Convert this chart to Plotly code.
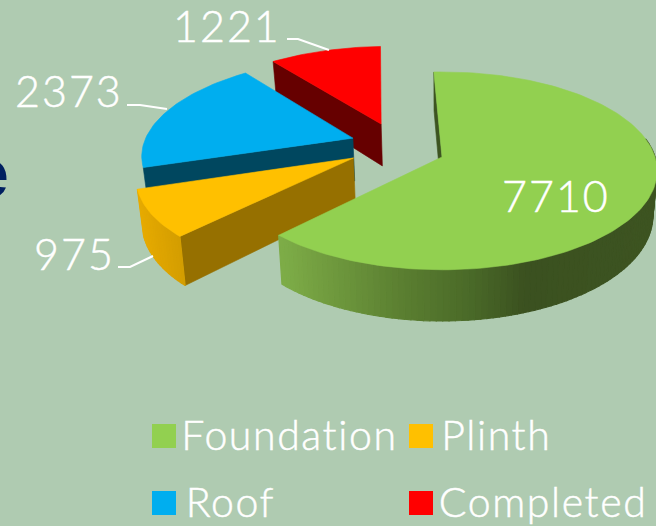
import math
import plotly.graph_objects as go

categories = ["Foundation", "Plinth", "Roof", "Completed"]
values = [7710, 975, 2373, 1221]
top_colors = ["#92D050", "#FFC000", "#00AEEF", "#FF0000"]
edge_colors = ["#3D5421", "#967000", "#00475F", "#660000"]

# Explode of each slice in pie units (right, back)
pull_x = [0.0, -0.415, -0.43, -0.30]
pull_y = [0.0, -0.01, 0.2, 0.357]

# 3D pie view parameters
W, H = 656, 526
CX, CY = 442, 157
RX, RY = 213, 97
PERSP = 0.14
DEPTH = 44
SHRINK = 0.98
ROTATION = -2.5


def project(x, y):
    s = 1 / (1 + PERSP * y)
    return CX + RX * x * s, CY - RY * y * s, s


def bottom(x, y):
    px, py, s = project(x, y)
    return CX + (px - CX) * SHRINK, py + DEPTH * s


def rim(i, deg):
    a = math.radians(deg)
    return pull_x[i] + math.sin(a), pull_y[i] + math.cos(a)


def mix(c1, c2, t):
    a = [int(c1[k:k + 2], 16) for k in (1, 3, 5)]
    b = [int(c2[k:k + 2], 16) for k in (1, 3, 5)]
    return "#" + "".join(f"{round(p + (q - p) * t):02X}" for p, q in zip(a, b))


def wall_color(i, sx):
    if i == 1:
        return mix("#E6AA00", "#D29C00", min(1, max(0, (sx - 138) / 45)))
    stops = [(283, "#7DAC47"), (400, "#5B7F31"), (470, "#4A6A28"), (525, "#3B5120"), (656, "#3D5421")]
    for (x0, c0), (x1, c1) in zip(stops, stops[1:]):
        if sx <= x1:
            return mix(c0, c1, max(0, (sx - x0) / (x1 - x0)))
    return stops[-1][1]


fig = go.Figure()


def poly(points, color, lw=0.6):
    xs = [p[0] for p in points] + [points[0][0]]
    ys = [p[1] for p in points] + [points[0][1]]
    fig.add_trace(go.Scatter(x=xs, y=ys, mode="lines", fill="toself", fillcolor=color,
                             line=dict(color=color, width=lw), hoverinfo="skip", showlegend=False))


total = sum(values)
spans = []
angle = ROTATION
for v in values:
    spans.append((angle, angle + 360 * v / total))
    angle += 360 * v / total

for i in [3, 2, 1, 0]:
    a0, a1 = spans[i]
    steps = max(4, int((a1 - a0) / 1.5))
    degs = [a0 + (a1 - a0) * k / steps for k in range(steps + 1)]
    ox, oy = pull_x[i], pull_y[i]
    # wall along the slice's first radial edge
    rx0, ry0 = rim(i, a0)
    poly([project(ox, oy)[:2], project(rx0, ry0)[:2], bottom(rx0, ry0), bottom(ox, oy)], edge_colors[i])
    # outer curved wall, only for the slices that show it from this view
    if i in (0, 1):
        for d0, d1 in zip(degs, degs[1:]):
            if d1 < 80:
                continue
            p0, p1 = rim(i, d0), rim(i, d1)
            sx = (project(*p0)[0] + project(*p1)[0]) / 2
            poly([project(*p0)[:2], project(*p1)[:2], bottom(*p1), bottom(*p0)], wall_color(i, sx), lw=1.2)
    # top face
    poly([project(ox, oy)[:2]] + [project(*rim(i, d))[:2] for d in degs], top_colors[i])

# leader lines
leaders = [
    ([287, 298, 329], [39, 39, 50]),
    ([127, 140, 167], [105, 105, 109]),
    ([118, 130, 153], [267, 267, 256]),
]
for lx, ly in leaders:
    fig.add_trace(go.Scatter(x=lx, y=ly, mode="lines", line=dict(color="white", width=2),
                             hoverinfo="skip", showlegend=False))

# legend swatches
swatch_x = [164, 421, 164, 421]
swatch_y = [436, 436, 503, 503]
text_x = [189, 446, 189, 446]
fig.add_trace(go.Scatter(x=swatch_x, y=swatch_y, mode="markers",
                         marker=dict(symbol="square", size=24, color=top_colors, line=dict(width=0)),
                         hoverinfo="skip", showlegend=False))

annotations = []


def label(x, y, text, size, color="white", anchor="left", family="Lato, 'Open Sans', sans-serif", weight=300):
    annotations.append(dict(x=x, y=y, xref="x", yref="y", text=text, showarrow=False, xanchor=anchor,
                            yanchor="middle", font=dict(family=family, size=size, color=color, weight=weight),
                            borderpad=0, borderwidth=0))


for name, tx, sy in zip(categories, text_x, swatch_y):
    label(tx, sy - 2, name, 41)

label(227, 25, f"{values[3]}", 43, anchor="center")
label(69, 90, f"{values[2]}", 43, anchor="center")
label(74, 253, f"{values[1]}", 43, anchor="center")
label(556, 195, f"{values[0]}", 43, anchor="center")
label(9, 173, "e", 68, color="#002060", anchor="right", family="'Liberation Sans', Arial, sans-serif", weight="bold")

fig.update_layout(
    width=W, height=H, autosize=False,
    margin=dict(l=0, r=0, t=0, b=0),
    paper_bgcolor="#AFCBB1", plot_bgcolor="#AFCBB1",
    showlegend=False,
    xaxis=dict(range=[0, W], visible=False, fixedrange=True),
    yaxis=dict(range=[H, 0], visible=False, fixedrange=True),
    annotations=annotations,
)
post = """
document.documentElement.style.margin='0';
document.documentElement.style.overflow='hidden';
document.body.style.margin='0';
document.body.style.overflow='hidden';
document.body.style.background='#AFCBB1';
document.querySelectorAll('.annotation-text').forEach(function(t){
  var s = t.textContent;
  t.style.fontVariantLigatures='none';
  if (s.length > 1) { t.style.stroke='white'; t.style.strokeWidth='0.5px'; }
  if (/^[0-9]+$/.test(s)) { t.style.letterSpacing='2px'; }
  else if (s.length > 1) { t.style.letterSpacing='1.6px'; }
});
"""
fig.write_html("out.html", config={"displayModeBar": False}, post_script=post)
